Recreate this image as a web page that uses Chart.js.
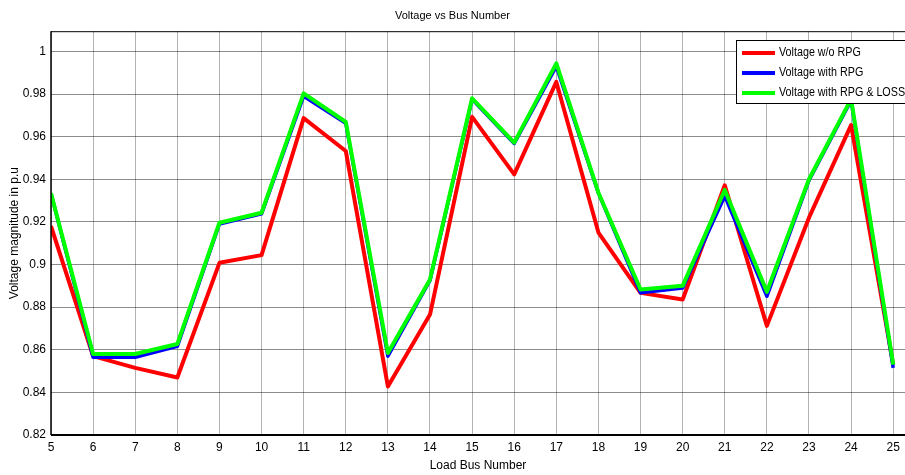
<!DOCTYPE html>
<html>
<head>
<meta charset="utf-8">
<script src="https://cdn.jsdelivr.net/npm/chart.js@4"></script>
<style>
html,body{margin:0;padding:0;background:#fff;}
#wrap{width:905px;height:475px;}
</style>
</head>
<body>
<div id="wrap"><canvas id="c" width="905" height="475"></canvas></div>
<script>
const busNumbers = [5,6,7,8,9,10,11,12,13,14,15,16,17,18,19,20,21,22,23,24,25];
const voltageWithoutRPG = [0.918,0.857,0.8515,0.847,0.9008,0.9044,0.9687,0.9533,0.8428,0.8765,0.9693,0.9423,0.9857,0.915,0.8867,0.8836,0.9372,0.8712,0.922,0.9654,0.853];
const voltageWithRPG = [0.9334,0.8565,0.8565,0.8616,0.919,0.9238,0.979,0.9663,0.857,0.8925,0.9775,0.9568,0.993,0.9335,0.8867,0.889,0.9321,0.8851,0.9395,0.977,0.8515];
const voltageWithRPGLoss = [0.9334,0.858,0.858,0.8627,0.9196,0.9243,0.9803,0.9669,0.8585,0.893,0.978,0.9572,0.9944,0.9337,0.8883,0.890,0.935,0.8872,0.940,0.9776,0.853];
const seriesLabels = ['Voltage w/o RPG','Voltage with RPG','Voltage with RPG & LOSS'];
const yTicks = [0.82,0.84,0.86,0.88,0.9,0.92,0.94,0.96,0.98,1];

const FONT = "'Liberation Sans',Arial,sans-serif";
const colors = ['#ff0000','#0000ff','#00ff00'];
const widths = [4,3.5,4];
const seriesData = [voltageWithoutRPG, voltageWithRPG, voltageWithRPGLoss];

const datasets = seriesData.map((arr,i)=>({
  label: seriesLabels[i],
  data: arr.map((v,j)=>({x:busNumbers[j], y:v})),
  borderColor: colors[i],
  backgroundColor: colors[i],
  borderWidth: widths[i],
  pointRadius: 0,
  tension: 0,
  order: 2-i,
  borderJoinStyle: 'round'
}));

const framePlugin = {
  id:'frame',
  afterDraw(chart){
    const {ctx, chartArea:a} = chart;
    ctx.save();
    ctx.strokeStyle='#000';
    ctx.lineWidth=1;
    ctx.beginPath();
    ctx.moveTo(a.left, a.top+0.5); ctx.lineTo(a.right, a.top+0.5);
    ctx.stroke();
    ctx.lineWidth=2;
    ctx.beginPath();
    ctx.moveTo(a.left, a.bottom); ctx.lineTo(a.right, a.bottom);
    ctx.stroke();
    ctx.lineWidth=1.5;
    ctx.beginPath();
    ctx.moveTo(a.left, a.top); ctx.lineTo(a.left, a.bottom);
    ctx.stroke();
    // legend
    const lx=736, ly=40, lw=180, lh=63;
    ctx.fillStyle='#fff';
    ctx.fillRect(lx,ly,lw,lh);
    ctx.lineWidth=1;
    ctx.strokeStyle='#000';
    ctx.strokeRect(lx+0.5,ly+0.5,lw,lh);
    ctx.textBaseline='middle';
    chart.data.datasets.forEach((ds,i)=>{
      const y = ly+13+i*20;
      ctx.strokeStyle=ds.borderColor;
      ctx.lineWidth=4;
      ctx.beginPath(); ctx.moveTo(742,y); ctx.lineTo(775,y); ctx.stroke();
      ctx.fillStyle='#000';
      ctx.save();
      ctx.translate(779, y);
      ctx.scale(0.86, 1);
      ctx.font = "12.5px "+FONT;
      ctx.fillText(ds.label, 0, 0);
      ctx.restore();
    });
    ctx.restore();
  }
};

new Chart(document.getElementById('c'), {
  type:'line',
  data:{datasets},
  options:{
    responsive:false,
    animation:false,
    layout:{padding:{left:0,right:0,top:0,bottom:0}},
    plugins:{
      legend:{display:false},
      tooltip:{enabled:false},
      title:{display:true,text:'Voltage vs Bus Number',color:'#000',
        font:{family:FONT,size:11,weight:'normal'},padding:{top:9,bottom:9}}
    },
    scales:{
      x:{
        type:'linear', min:5, max:25.28,
        afterBuildTicks(s){ s.ticks = busNumbers.map(v=>({value:v})); },
        afterFit(s){ s.height = 40; },
        grid:{color:'rgba(0,0,0,0.3)',lineWidth:1,drawTicks:false},
        border:{display:false},
        ticks:{color:'#000',font:{family:FONT,size:12},padding:5,maxRotation:0,autoSkip:false,
          callback:(v)=>String(v)},
        title:{display:true,text:'Load Bus Number',color:'#000',font:{family:FONT,size:12},padding:{top:0,bottom:2}}
      },
      y:{
        type:'linear', min:0.82, max:1.0095,
        afterBuildTicks(s){ s.ticks = yTicks.map(v=>({value:v})); },
        afterFit(s){ s.width = 51; },
        grid:{color:'rgba(0,0,0,0.45)',lineWidth:1,drawTicks:false},
        border:{display:false},
        ticks:{color:'#000',font:{family:FONT,size:12},padding:5,
          callback:(v)=>String(Math.round(v*100)/100)},
        title:{display:true,text:'Voltage magnitude in p.u',color:'#000',font:{family:FONT,size:12},padding:{top:7,bottom:4}}
      }
    }
  },
  plugins:[framePlugin]
});
</script>
</body>
</html>
